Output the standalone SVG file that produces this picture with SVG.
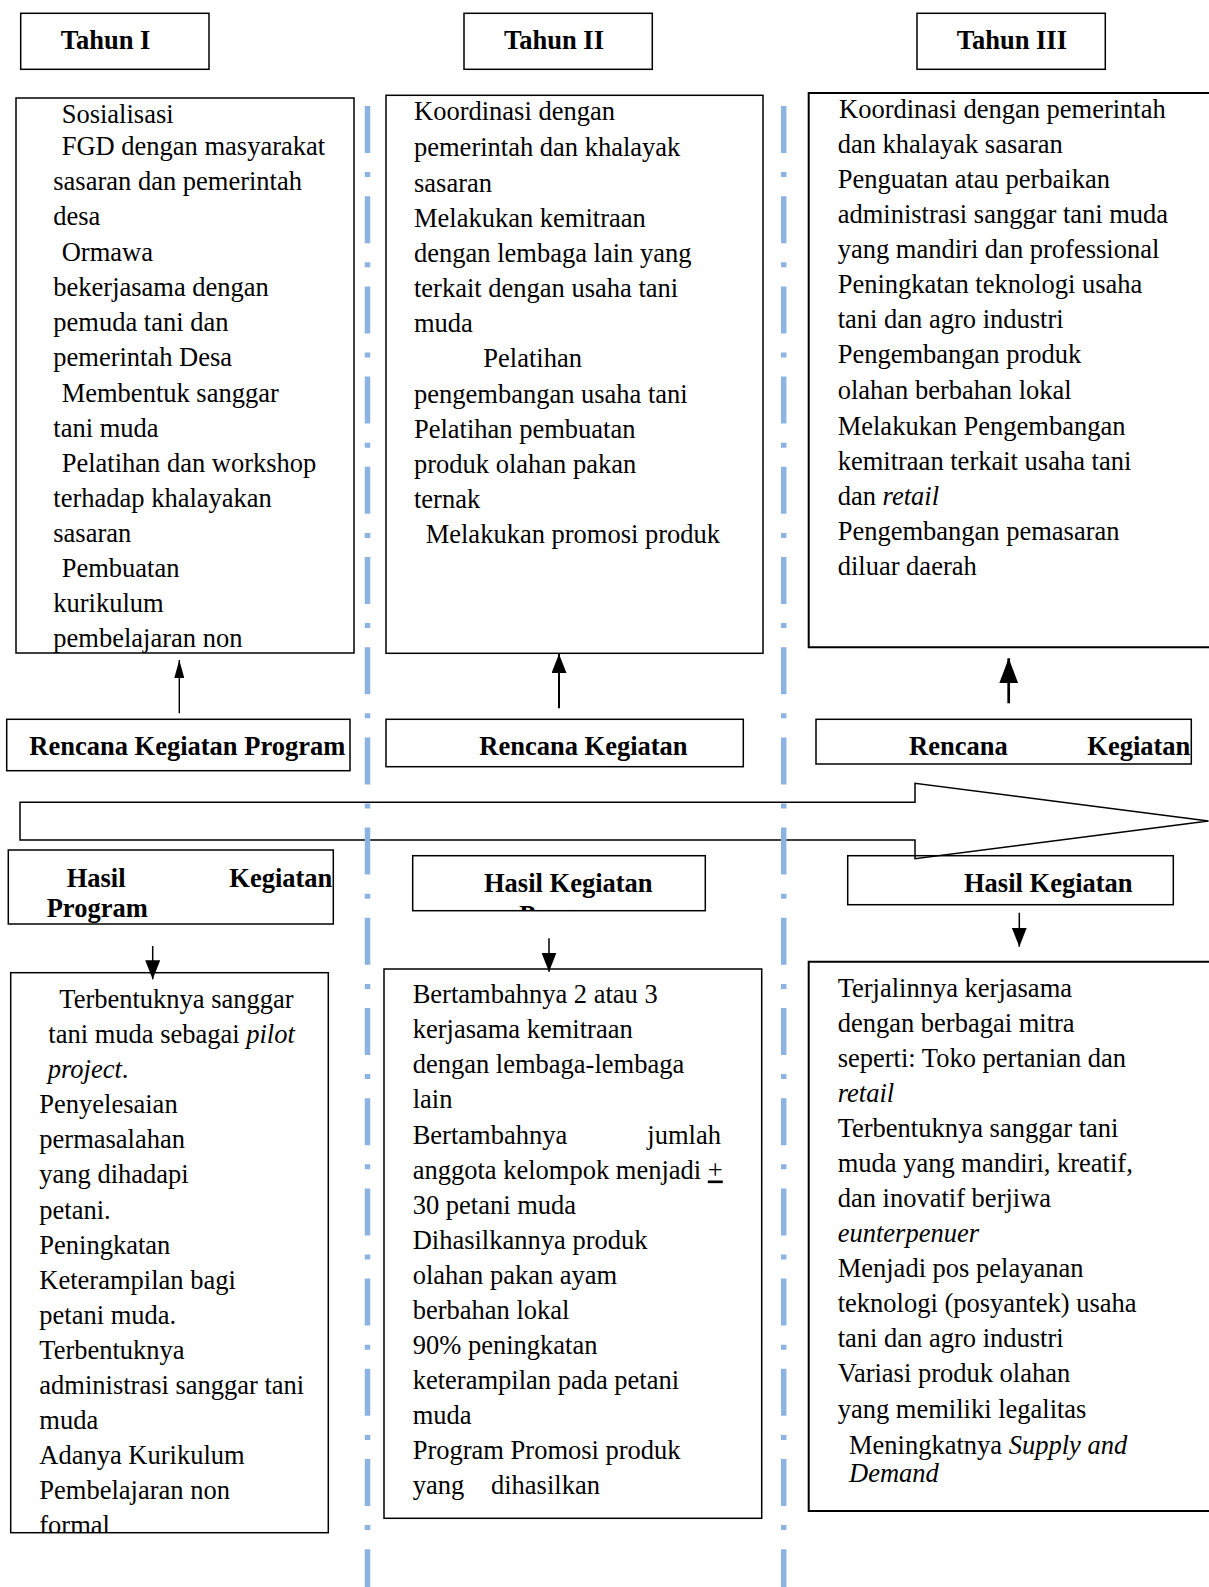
<svg xmlns="http://www.w3.org/2000/svg" width="1209" height="1587" viewBox="0 0 1209 1587">
<style>
text{font-family:"Liberation Serif","Times New Roman",serif;font-size:26.5px;fill:#000}
.b{font-weight:bold}
.i{font-style:italic}
.box{fill:#fff;stroke:#000;stroke-width:1.5}
.open{fill:none;stroke:#000;stroke-width:2}
.sep{stroke:#8db3e2;stroke-width:5.5;stroke-dasharray:47 19.1 5 19.1;fill:none}
.con{stroke:#000;fill:none}
</style>
<defs>
<marker id="arrS" markerUnits="userSpaceOnUse" viewBox="0 0 18 10" refX="18" refY="5" markerWidth="18" markerHeight="10" orient="auto"><path d="M0,0 L18,5 L0,10 z" fill="#000"/></marker>
<marker id="arrM" markerUnits="userSpaceOnUse" viewBox="0 0 19 15" refX="19" refY="7.5" markerWidth="19" markerHeight="15" orient="auto"><path d="M0,0 L19,7.5 L0,15 z" fill="#000"/></marker>
<marker id="arrL" markerUnits="userSpaceOnUse" viewBox="0 0 25 19" refX="25" refY="9.5" markerWidth="25" markerHeight="19" orient="auto"><path d="M0,0 L25,9.5 L0,19 z" fill="#000"/></marker>
<clipPath id="c1"><rect x="16" y="98" width="338" height="555"/></clipPath>
<clipPath id="c2"><rect x="412.7" y="855.7" width="292.6" height="54.3"/></clipPath>
<clipPath id="c3"><rect x="10.7" y="972.7" width="317.6" height="560"/></clipPath>
</defs>
<rect width="1209" height="1587" fill="#fff"/>

<g id="tahun1">
<rect class="box" x="20.7" y="13.3" width="188.3" height="56"/>
<text class="b" x="60.7" y="49.3">Tahun I</text>
</g>
<g id="tahun2">
<rect class="box" x="464" y="13.3" width="188.3" height="56"/>
<text class="b" x="504" y="49.3">Tahun II</text>
</g>
<g id="tahun3">
<rect class="box" x="917" y="13.3" width="188.3" height="56"/>
<text class="b" x="956.7" y="49.3">Tahun III</text>
</g>

<g id="kegiatan1">
<rect class="box" x="16" y="98" width="338" height="555"/>
<g clip-path="url(#c1)">
<text x="61.7" y="123.3">Sosialisasi</text>
<text x="61.7" y="155">FGD dengan masyarakat</text>
<text x="53.3" y="190">sasaran dan pemerintah</text>
<text x="53.3" y="225.3">desa</text>
<text x="61.7" y="261">Ormawa</text>
<text x="53.3" y="296">bekerjasama dengan</text>
<text x="53.3" y="331">pemuda tani dan</text>
<text x="53.3" y="366">pemerintah Desa</text>
<text x="61.7" y="401.7">Membentuk sanggar</text>
<text x="53.3" y="436.7">tani muda</text>
<text x="61.7" y="471.7">Pelatihan dan workshop</text>
<text x="53.3" y="506.7">terhadap khalayakan</text>
<text x="53.3" y="541.7">sasaran</text>
<text x="61.7" y="576.7">Pembuatan</text>
<text x="53.3" y="611.7">kurikulum</text>
<text x="53.3" y="646.7">pembelajaran non</text>
</g>
</g>

<g id="kegiatan2">
<rect class="box" x="386" y="95.3" width="377" height="558"/>
<text x="414" y="120">Koordinasi dengan</text>
<text x="414" y="156.2">pemerintah dan khalayak</text>
<text x="414" y="191.5">sasaran</text>
<text x="414" y="226.7">Melakukan kemitraan</text>
<text x="414" y="261.7">dengan lembaga lain yang</text>
<text x="414" y="296.7">terkait dengan usaha tani</text>
<text x="414" y="331.7">muda</text>
<text x="483.3" y="366.7">Pelatihan</text>
<text x="414" y="402.5">pengembangan usaha tani</text>
<text x="414" y="437.5">Pelatihan pembuatan</text>
<text x="414" y="472.5">produk olahan pakan</text>
<text x="414" y="507.5">ternak</text>
<text x="425.7" y="542.5">Melakukan promosi produk</text>
</g>

<g id="kegiatan3">
<path class="open" d="M1215,93 H808.7 V647.3 H1215"/>
<text x="839" y="118.3">Koordinasi dengan pemerintah</text>
<text x="837.7" y="153.3">dan khalayak sasaran</text>
<text x="837.7" y="188.3">Penguatan atau perbaikan</text>
<text x="837.7" y="223.3">administrasi sanggar tani muda</text>
<text x="837.7" y="258.3">yang mandiri dan professional</text>
<text x="837.7" y="293.3">Peningkatan teknologi usaha</text>
<text x="837.7" y="328.3">tani dan agro industri</text>
<text x="837.7" y="363.3">Pengembangan produk</text>
<text x="837.7" y="398.8">olahan berbahan lokal</text>
<text x="837.7" y="434.5">Melakukan Pengembangan</text>
<text x="837.7" y="469.5">kemitraan terkait usaha tani</text>
<text x="837.7" y="504.5">dan <tspan class="i">retail</tspan></text>
<text x="837.7" y="539.5">Pengembangan pemasaran</text>
<text x="837.7" y="574.5">diluar daerah</text>
</g>

<g id="rencana1">
<rect class="box" x="6.7" y="719.3" width="343.3" height="51.4"/>
<text class="b" x="29.3" y="755">Rencana Kegiatan Program</text>
</g>
<g id="rencana2">
<rect class="box" x="386" y="719.3" width="357.3" height="47.4"/>
<text class="b" x="479.3" y="755">Rencana Kegiatan</text>
</g>
<g id="rencana3">
<rect class="box" x="816" y="719.3" width="375.3" height="44.7"/>
<text class="b" x="909" y="755">Rencana</text>
<text class="b" x="1087.3" y="755">Kegiatan</text>
</g>

<g id="hasil1">
<rect class="box" x="8.3" y="850" width="325" height="74"/>
<text class="b" x="66.7" y="886.7">Hasil</text>
<text class="b" x="229.3" y="886.7">Kegiatan</text>
<text class="b" x="46.7" y="916.7">Program</text>
</g>
<g id="hasil2">
<rect class="box" x="412.7" y="855.7" width="292.6" height="55"/>
<text class="b" x="484" y="891.7">Hasil Kegiatan</text>
<text class="b" x="519.3" y="924.3" clip-path="url(#c2)">Program</text>
</g>
<g id="hasil3">
<rect class="box" x="847.7" y="855.7" width="325.6" height="49"/>
<text class="b" x="964" y="891.7">Hasil Kegiatan</text>
</g>

<g id="timeline-arrow">
<path d="M20,802.3 H915 V783.3 L1208.5,821 L915,858.7 V840 H20 Z" fill="none" stroke="#000" stroke-width="1.5"/>
</g>

<g id="hasilisi1">
<rect class="box" x="10.7" y="972.7" width="317.6" height="560"/>
<g clip-path="url(#c3)">
<text x="59.3" y="1008.3">Terbentuknya sanggar</text>
<text x="48.3" y="1043.3">tani muda sebagai <tspan class="i">pilot</tspan></text>
<text x="47.7" y="1078.3"><tspan class="i">project</tspan>.</text>
<text x="39.3" y="1113.3">Penyelesaian</text>
<text x="39.3" y="1148.3">permasalahan</text>
<text x="39.3" y="1183.3">yang dihadapi</text>
<text x="39.3" y="1218.5">petani.</text>
<text x="39.3" y="1253.5">Peningkatan</text>
<text x="39.3" y="1288.7">Keterampilan bagi</text>
<text x="39.3" y="1324">petani muda.</text>
<text x="39.3" y="1359">Terbentuknya</text>
<text x="39.3" y="1394">administrasi sanggar tani</text>
<text x="39.3" y="1429">muda</text>
<text x="39.3" y="1464">Adanya Kurikulum</text>
<text x="39.3" y="1499">Pembelajaran non</text>
<text x="39.3" y="1534">formal</text>
</g>
</g>

<g id="hasilisi2">
<rect class="box" x="384" y="969" width="377.7" height="549.3"/>
<text x="412.7" y="1003.3">Bertambahnya 2 atau 3</text>
<text x="412.7" y="1038.3">kerjasama kemitraan</text>
<text x="412.7" y="1073.3">dengan lembaga-lembaga</text>
<text x="412.7" y="1108.3">lain</text>
<text x="412.7" y="1143.8">Bertambahnya</text>
<text x="647.3" y="1143.8">jumlah</text>
<text x="412.7" y="1178.5">anggota kelompok menjadi <tspan text-decoration="underline">+</tspan></text>
<text x="412.7" y="1213.5">30 petani muda</text>
<text x="412.7" y="1248.5">Dihasilkannya produk</text>
<text x="412.7" y="1283.5">olahan pakan ayam</text>
<text x="412.7" y="1318.5">berbahan lokal</text>
<text x="412.7" y="1353.5">90% peningkatan</text>
<text x="412.7" y="1388.5">keterampilan pada petani</text>
<text x="412.7" y="1423.5">muda</text>
<text x="412.7" y="1458.5">Program Promosi produk</text>
<text x="412.7" y="1493.5">yang</text>
<text x="491" y="1493.5">dihasilkan</text>
</g>

<g id="hasilisi3">
<path class="open" d="M1215,961.7 H808.7 V1511 H1215"/>
<text x="837.7" y="997.3">Terjalinnya kerjasama</text>
<text x="837.7" y="1032.3">dengan berbagai mitra</text>
<text x="837.7" y="1067.3">seperti: Toko pertanian dan</text>
<text x="837.7" y="1102.3" class="i">retail</text>
<text x="837.7" y="1137.3">Terbentuknya sanggar tani</text>
<text x="837.7" y="1172.3">muda yang mandiri, kreatif,</text>
<text x="837.7" y="1207.3">dan inovatif berjiwa</text>
<text x="837.7" y="1242.3" class="i">eunterpenuer</text>
<text x="837.7" y="1277.3">Menjadi pos pelayanan</text>
<text x="837.7" y="1312.3">teknologi (posyantek) usaha</text>
<text x="837.7" y="1347.3">tani dan agro industri</text>
<text x="837.7" y="1382.3">Variasi produk olahan</text>
<text x="837.7" y="1417.8">yang memiliki legalitas</text>
<text x="849" y="1453.5">Meningkatnya <tspan class="i">Supply and</tspan></text>
<text x="849" y="1481.7" class="i">Demand</text>
</g>

<g id="separators">
<line class="sep" x1="367.5" y1="106" x2="367.5" y2="1587"/>
<line class="sep" x1="783.7" y1="106" x2="783.7" y2="1587"/>
</g>

<g id="connectors">
<line class="con" stroke-width="1.4" x1="179.3" y1="713.3" x2="179.3" y2="660" marker-end="url(#arrS)"/>
<line class="con" stroke-width="2" x1="559" y1="708.3" x2="559" y2="654" marker-end="url(#arrM)"/>
<line class="con" stroke-width="2.7" x1="1008.7" y1="703.3" x2="1008.7" y2="658.3" marker-end="url(#arrL)"/>
<line class="con" stroke-width="1.5" x1="152.7" y1="946" x2="152.7" y2="979.3" marker-end="url(#arrM)"/>
<line class="con" stroke-width="1.5" x1="549" y1="938.3" x2="549" y2="971.7" marker-end="url(#arrM)"/>
<line class="con" stroke-width="1.5" x1="1019.3" y1="912.7" x2="1019.3" y2="946.7" marker-end="url(#arrM)"/>
</g>
</svg>
